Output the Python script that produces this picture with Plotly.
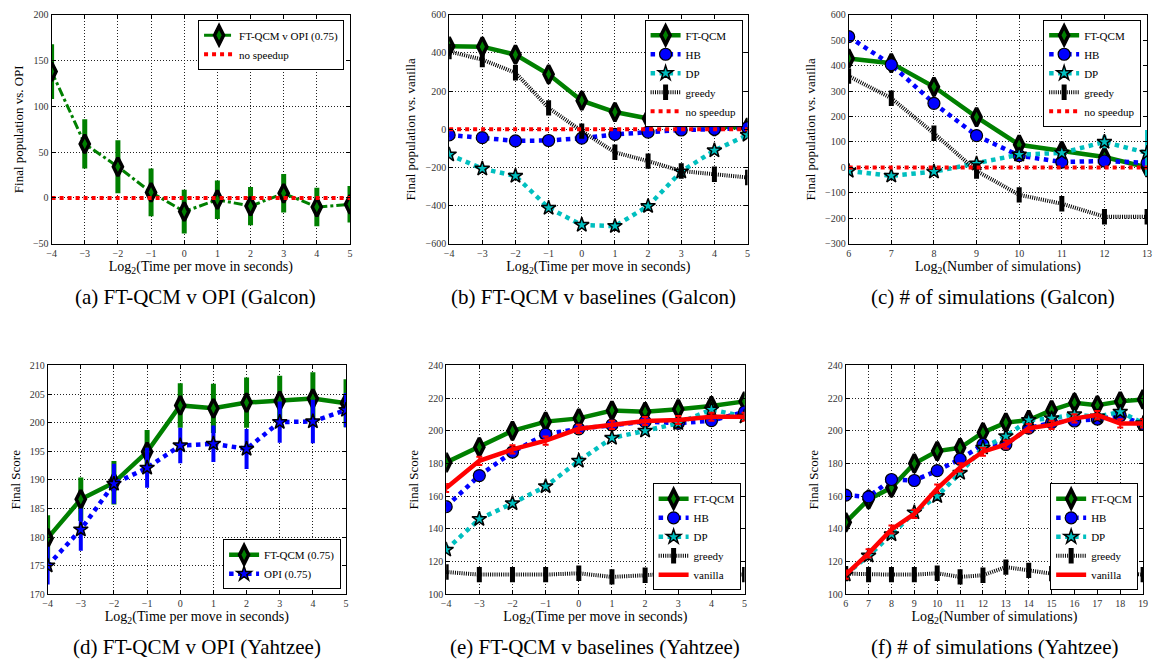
import plotly.graph_objects as go

W, H = 1161, 667

# ---------------- data ----------------
a_x = [-4, -3, -2, -1, 0, 1, 2, 3, 4, 5]
a_ftqcm = [138, 59, 34, 6, -15, -2, -9, 5, -10, -7]
a_ftqcm_err = [30, 27, 29, 26, 24, 21, 21, 21, 21, 20]
a_nospeed = [0, 0, 0, 0, 0, 0, 0, 0, 0, 0]

b_x = [-4, -3, -2, -1, 0, 1, 2, 3, 4, 5]
b_ftqcm = [435, 433, 391, 288, 150, 90, 56, 28, 15, 8]
b_hb = [-30, -44, -61, -59, -47, -27, -15, -4, 0, 8]
b_dp = [-133, -207, -245, -413, -502, -508, -403, -222, -111, -30]
b_greedy = [408, 365, 296, 112, -10, -121, -167, -219, -236, -253]
b_nospeed = [0, 0, 0, 0, 0, 0, 0, 0, 0, 0]

c_x = [6, 7, 8, 9, 10, 11, 12, 13]
c_ftqcm = [428, 410, 317, 198, 89, 64, 41, 0]
c_hb = [514, 404, 252, 125, 46, 21, 25, 18]
c_dp = [-14, -33, -17, 15, 50, 57, 100, 57]
c_dp_err = [12, 12, 12, 12, 15, 15, 25, 90]
c_greedy = [359, 272, 134, -14, -108, -143, -194, -194]
c_nospeed = [0, 0, 0, 0, 0, 0, 0, 0]

d_x = [-4, -3, -2, -1, 0, 1, 2, 3, 4, 5]
d_ftqcm = [179.8, 186.6, 189.5, 194.9, 203.0, 202.5, 203.5, 203.8, 204.2, 203.4]
d_ftqcm_err = [4.0, 3.8, 3.8, 3.8, 3.9, 4.3, 4.4, 4.4, 4.6, 4.2]
d_opi = [175.0, 181.3, 189.3, 192.1, 196.0, 196.3, 195.4, 200.1, 200.2, 202.2]
d_opi_err = [3.3, 3.7, 3.5, 3.5, 3.1, 3.2, 3.5, 3.6, 3.8, 3.0]

e_x = [-4, -3, -2, -1, 0, 1, 2, 3, 4, 5]
e_ftqcm = [180.6, 190.0, 200.0, 205.6, 207.6, 212.4, 211.6, 213.2, 215.2, 218.0]
e_hb = [153.6, 172.6, 187.0, 198.0, 201.2, 203.6, 205.6, 204.6, 206.2, 211.6]
e_dp = [127.2, 146.0, 155.6, 166.0, 181.6, 195.6, 200.0, 204.6, 213.0, 208.6]
e_greedy = [113.6, 112.0, 112.0, 112.0, 112.8, 110.6, 111.6, 113.0, 112.0, 112.0]
e_vanilla = [165.0, 181.6, 188.6, 194.0, 201.2, 203.6, 206.0, 206.6, 208.6, 208.6]
e_err = [2.5, 2.5, 2.5, 2.5, 2.5, 2.5, 2.5, 2.5, 2.5, 2.5]

f_x = [6, 7, 8, 9, 10, 11, 12, 13, 14, 15, 16, 17, 18, 19]
f_ftqcm = [144.0, 158.0, 165.2, 180.0, 187.6, 189.6, 199.0, 205.0, 206.6, 212.6, 217.2, 215.6, 218.0, 219.2]
f_hb = [160.6, 159.6, 170.2, 169.6, 175.6, 182.6, 191.6, 191.6, 201.6, 205.0, 206.0, 207.2, 209.2, 204.0]
f_dp = [112.0, 123.6, 136.6, 150.0, 160.0, 174.2, 189.6, 196.6, 206.6, 207.6, 210.0, 208.6, 211.6, 204.6]
f_greedy = [112.6, 112.0, 112.0, 112.0, 112.8, 110.6, 111.6, 116.6, 114.6, 112.6, 113.0, 112.0, 113.0, 112.0]
f_vanilla = [112.0, 125.0, 139.6, 149.2, 164.6, 177.6, 187.2, 191.6, 201.6, 203.6, 207.6, 209.6, 204.5, 204.5]
f_err = [2.5] * 14

captions = ["(a) FT-QCM v OPI (Galcon)", "(b) FT-QCM v baselines (Galcon)",
            "(c) # of simulations (Galcon)", "(d) FT-QCM v OPI (Yahtzee)",
            "(e) FT-QCM v baselines (Yahtzee)", "(f) # of simulations (Yahtzee)"]
xtitle_time = "Log<sub>2</sub>(Time per move in seconds)"
xtitle_sims = "Log<sub>2</sub>(Number of simulations)"

# ---------------- styles ----------------
GREEN = "#008000"
BLUE = "#0000ff"
CYAN = "#00bfbf"
RED = "#ff0000"
SERIF = "Liberation Serif, Times New Roman, serif"

# panel layout in pixels: (left, right, top, bottom)
boxes = [(47, 348, 9, 242), (448, 749, 9, 242), (851, 1152, 9, 242),
         (43, 344, 366, 599), (445, 746, 366, 599), (848, 1148, 366, 599)]
xranges = [(-4, 5), (-4, 5), (6, 13), (-4, 5), (-4, 5), (6, 19)]
yranges = [(-50, 200), (-600, 600), (-300, 600), (170, 210), (100, 240), (100, 240)]
ydticks = [50, 200, 100, 5, 20, 20]
ytitles = ["Final population vs. OPI", "Final population vs. vanilla",
           "Final population vs. vanilla", "Final Score", "Final Score", "Final Score"]
xtitles = [xtitle_time, xtitle_time, xtitle_sims, xtitle_time, xtitle_time, xtitle_sims]
legend_boxes = [(342, 14), (744, 14), (1146, 14), (339, 594), (742, 595), (1143, 595)]
legend_anchor = ["top", "top", "top", "bottom", "bottom", "bottom"]

fig = go.Figure()


def ax(i):
    return ("x" if i == 0 else f"x{i+1}"), ("y" if i == 0 else f"y{i+1}")


def leg(i):
    return "legend" if i == 0 else f"legend{i+1}"


def ftqcm(i, x, y, err=None, dash="solid", width=4.5, name="FT-QCM"):
    xa, ya = ax(i)
    fig.add_trace(go.Scatter(
        x=x, y=y, name=name, xaxis=xa, yaxis=ya, legend=leg(i),
        mode="lines+markers",
        line=dict(color=GREEN, width=width, dash=dash),
        marker=dict(symbol="diamond-tall", size=13, color=GREEN,
                    line=dict(color="black", width=3.5)),
        error_y=dict(type="data", array=err, visible=err is not None,
                     color=GREEN, thickness=5, width=0)))


def hb(i, x, y, err=None):
    xa, ya = ax(i)
    fig.add_trace(go.Scatter(
        x=x, y=y, name="HB", xaxis=xa, yaxis=ya, legend=leg(i),
        mode="lines+markers",
        line=dict(color=BLUE, width=4.5, dash="dot"),
        marker=dict(symbol="circle", size=12, color=BLUE,
                    line=dict(color="black", width=1.2)),
        error_y=dict(type="data", array=err, visible=err is not None,
                     color=BLUE, thickness=4, width=0)))


def dp(i, x, y, err=None, color=CYAN, name="DP"):
    xa, ya = ax(i)
    fig.add_trace(go.Scatter(
        x=x, y=y, name=name, xaxis=xa, yaxis=ya, legend=leg(i),
        mode="lines+markers",
        line=dict(color=color, width=4.5, dash="dot"),
        marker=dict(symbol="star", size=11, color=color,
                    line=dict(color="black", width=1.5)),
        error_y=dict(type="data", array=err, visible=err is not None,
                     color=color, thickness=4, width=0)))


def greedy(i, x, y):
    xa, ya = ax(i)
    fig.add_trace(go.Scatter(
        x=x, y=y, name="greedy", xaxis=xa, yaxis=ya, legend=leg(i),
        mode="lines+markers",
        line=dict(color="black", width=4, dash="1px,1.2px"),
        marker=dict(symbol="line-ns", size=11, color="black",
                    line=dict(color="black", width=5))))


def nospeed(i, x, y):
    xa, ya = ax(i)
    fig.add_trace(go.Scatter(
        x=x, y=y, name="no speedup", xaxis=xa, yaxis=ya, legend=leg(i),
        mode="lines",
        line=dict(color=RED, width=4, dash="dot")))


def vanilla(i, x, y, err):
    xa, ya = ax(i)
    fig.add_trace(go.Scatter(
        x=x, y=y, name="vanilla", xaxis=xa, yaxis=ya, legend=leg(i),
        mode="lines",
        line=dict(color=RED, width=4.5),
        error_y=dict(type="data", array=err, color=RED, thickness=2, width=3)))


# (a)
ftqcm(0, a_x, a_ftqcm, a_ftqcm_err, dash="dashdot", width=3, name="FT-QCM v OPI (0.75)")
nospeed(0, a_x, a_nospeed)
# (b)
ftqcm(1, b_x, b_ftqcm)
hb(1, b_x, b_hb)
dp(1, b_x, b_dp)
greedy(1, b_x, b_greedy)
nospeed(1, b_x, b_nospeed)
# (c)
ftqcm(2, c_x, c_ftqcm)
hb(2, c_x, c_hb)
dp(2, c_x, c_dp, c_dp_err)
greedy(2, c_x, c_greedy)
nospeed(2, c_x, c_nospeed)
# (d)
ftqcm(3, d_x, d_ftqcm, d_ftqcm_err, name="FT-QCM (0.75)")
dp(3, d_x, d_opi, d_opi_err, color=BLUE, name="OPI (0.75)")
# (e)
ftqcm(4, e_x, e_ftqcm, e_err)
hb(4, e_x, e_hb, e_err)
dp(4, e_x, e_dp, e_err)
greedy(4, e_x, e_greedy)
vanilla(4, e_x, e_vanilla, e_err)
# (f)
ftqcm(5, f_x, f_ftqcm, f_err)
hb(5, f_x, f_hb, f_err)
dp(5, f_x, f_dp, f_err)
greedy(5, f_x, f_greedy)
vanilla(5, f_x, f_vanilla, f_err)

layout = dict(width=W, height=H, margin=dict(l=0, r=0, t=0, b=0),
              paper_bgcolor="white", plot_bgcolor="white",
              font=dict(family=SERIF, color="black", size=11))

annotations = []
for i, (l, r, t, b) in enumerate(boxes):
    xa, ya = ax(i)
    xkey = "xaxis" if i == 0 else f"xaxis{i+1}"
    ykey = "yaxis" if i == 0 else f"yaxis{i+1}"
    common = dict(showline=True, linecolor="black", linewidth=1, mirror="ticks",
                  ticks="inside", ticklen=4, tickcolor="black",
                  showgrid=True, gridcolor="#222", gridwidth=1, griddash="1px,2px",
                  zeroline=False, tickfont=dict(family=SERIF, size=10, color="#333"))
    layout[xkey] = dict(common, domain=[l / W, r / W], range=list(xranges[i]),
                        dtick=1, anchor=ya,
                        title=dict(text=xtitles[i], font=dict(size=14), standoff=2))
    layout[ykey] = dict(common, domain=[1 - b / H, 1 - t / H], range=list(yranges[i]),
                        dtick=ydticks[i], anchor=xa,
                        title=dict(text=ytitles[i], font=dict(size=13), standoff=6))
    lx, ly = legend_boxes[i]
    layout[leg(i)] = dict(x=lx / W, y=1 - ly / H, xanchor="right",
                          yanchor=legend_anchor[i], bgcolor="white",
                          bordercolor="black", borderwidth=1,
                          font=dict(family=SERIF, size=11), tracegroupgap=0,
                          itemwidth=30)
    cy = 296 if i < 3 else 653
    annotations.append(dict(text=captions[i], xref="paper", yref="paper",
                            x=((l + r) / 2 + (-5 if i < 3 else 0)) / W, y=1 - cy / H,
                            showarrow=False, font=dict(family=SERIF, size=21),
                            xanchor="center", yanchor="middle"))
layout["annotations"] = annotations
layout["showlegend"] = True
fig.update_layout(**layout)

fig.write_html("out.html", config={"displayModeBar": False},
               post_script="document.body.style.margin='0';")
